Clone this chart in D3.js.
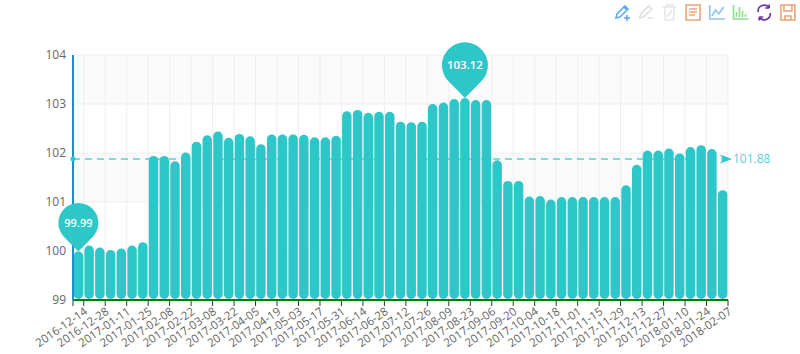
<!DOCTYPE html>
<html>
<head>
<meta charset="utf-8">
<script src="https://cdnjs.cloudflare.com/ajax/libs/d3/7.8.5/d3.min.js"></script>
<style>
	body { margin: 0; background: #fff; overflow: hidden; }
	text { font-family: "Open Sans", "Noto Sans", sans-serif; }
</style>
</head>
<body>
<div id="plot"></div>
<script>
// weekly categories
const categories = [
	"2016-12-14","2016-12-21","2016-12-28","2017-01-04","2017-01-11","2017-01-18","2017-01-25","2017-02-01",
	"2017-02-08","2017-02-15","2017-02-22","2017-03-01","2017-03-08","2017-03-15","2017-03-22","2017-03-29",
	"2017-04-05","2017-04-12","2017-04-19","2017-04-26","2017-05-03","2017-05-10","2017-05-17","2017-05-24",
	"2017-05-31","2017-06-07","2017-06-14","2017-06-21","2017-06-28","2017-07-05","2017-07-12","2017-07-19",
	"2017-07-26","2017-08-02","2017-08-09","2017-08-16","2017-08-23","2017-08-30","2017-09-06","2017-09-13",
	"2017-09-20","2017-09-27","2017-10-04","2017-10-11","2017-10-18","2017-10-25","2017-11-01","2017-11-08",
	"2017-11-15","2017-11-22","2017-11-29","2017-12-06","2017-12-13","2017-12-20","2017-12-27","2018-01-03",
	"2018-01-10","2018-01-17","2018-01-24","2018-01-31","2018-02-07"
];
const values = [
	99.99,100.11,100.07,100.02,100.05,100.11,100.18,101.94,
	101.94,101.83,102.01,102.23,102.36,102.44,102.31,102.39,
	102.34,102.18,102.38,102.38,102.38,102.37,102.32,102.32,
	102.35,102.85,102.88,102.82,102.84,102.84,102.64,102.63,
	102.64,103.00,103.03,103.10,103.12,103.08,103.08,101.85,
	101.43,101.43,101.11,101.12,101.05,101.10,101.10,101.10,
	101.10,101.10,101.10,101.34,101.76,102.05,102.05,102.09,
	101.99,102.12,102.16,102.08,101.24
];
const yTicks = [99, 100, 101, 102, 103, 104];
const meanValue = 101.88;

const color = "#2ec7c9";
const margin = {top: 55, right: 72, bottom: 54, left: 73};
const totalW = 800, totalH = 354;
const width = totalW - margin.left - margin.right;
const height = totalH - margin.top - margin.bottom;

let svg = d3.select("#plot")
	.append("svg")
		.attr("width", totalW)
		.attr("height", totalH)
		.style("display", "block");
let g = svg.append("g")
	.attr("transform", "translate(" + margin.left + "," + margin.top + ")");

let x = d3.scaleBand().domain(categories).range([0, width]).paddingInner(0.12).paddingOuter(0.06);
let y = d3.scaleLinear().domain([99, 104]).range([height, 0]);
let step = x.step();
let labelCats = categories.filter((d, i) => i % 2 == 0);

// alternating split areas
g.selectAll("rect.area")
	.data(yTicks.slice(0, -1).filter((d, i) => i % 2 == 0))
	.enter().append("rect")
		.attr("class", "area")
		.attr("x", 0)
		.attr("width", width)
		.attr("y", d => y(d + 1))
		.attr("height", d => y(d) - y(d + 1))
		.attr("fill", "#fafafa");

// grid
g.selectAll("line.hgrid")
	.data(yTicks)
	.enter().append("line")
		.attr("class", "hgrid")
		.attr("x1", 0).attr("x2", width)
		.attr("y1", d => y(d)).attr("y2", d => y(d))
		.attr("stroke", "#eee");
g.selectAll("line.vgrid")
	.data(labelCats)
	.enter().append("line")
		.attr("class", "vgrid")
		.attr("x1", d => x(d) + x.bandwidth() / 2 + step / 2)
		.attr("x2", d => x(d) + x.bandwidth() / 2 + step / 2)
		.attr("y1", 0).attr("y2", height)
		.attr("stroke", "#eee");

// bars
g.selectAll("rect.bar")
	.data(categories)
	.enter().append("rect")
		.attr("class", "bar")
		.attr("x", d => x(d))
		.attr("width", x.bandwidth())
		.attr("y", (d, i) => y(values[i]))
		.attr("height", (d, i) => y(99) - y(values[i]) - 1)
		.attr("rx", 4.7)
		.attr("fill", color);

// x axis, ticks sit on the right edge of every other band
let xAxis = g.append("g")
	.attr("transform", "translate(" + (step / 2) + "," + height + ")")
	.call(d3.axisBottom(x).tickValues(labelCats).tickSize(6).tickSizeOuter(0).offset(0));
xAxis.select(".domain").remove();
xAxis.selectAll("line").attr("stroke", "#333");
xAxis.selectAll("text")
	.attr("fill", "#666")
	.style("font-size", "11.5px")
	.attr("text-anchor", "end")
	.attr("x", -1)
	.attr("y", 9)
	.attr("dy", "0.71em")
	.attr("transform", "translate(-4.5,-1.5) rotate(-35)");
g.append("line")
	.attr("x1", 0).attr("x2", 0)
	.attr("y1", height).attr("y2", height + 6)
	.attr("stroke", "#333");
g.append("line")
	.attr("x1", 0).attr("x2", width)
	.attr("y1", height).attr("y2", height)
	.attr("stroke", "#008000")
	.attr("stroke-width", 2);

// y axis
let yAxis = g.append("g")
	.call(d3.axisLeft(y).tickValues(yTicks).tickFormat(d3.format("d")).tickSize(0).tickPadding(7).offset(0));
yAxis.select(".domain").attr("stroke", "#1790cf").attr("stroke-width", 2);
yAxis.selectAll("text").attr("fill", "#666").style("font-size", "12px");

// mean line
let mark = g.append("g").attr("transform", "translate(0," + y(meanValue) + ")");
mark.append("line")
	.attr("x1", 0).attr("x2", width - 4)
	.attr("stroke", color).attr("stroke-opacity", 0.8)
	.attr("stroke-width", 1.5)
	.attr("stroke-dasharray", "7,5");
mark.append("circle").attr("r", 2.5).attr("fill", color);
mark.append("path")
	.attr("transform", "translate(" + (width + 4) + ",0)")
	.attr("d", "M0,0L-12,-4.5L-9,0L-12,4.5Z")
	.attr("fill", color);
mark.append("text")
	.attr("x", width + 5)
	.attr("dy", "0.35em")
	.attr("fill", color)
	.attr("fill-opacity", 0.85)
	.style("font-size", "12px")
	.text(meanValue.toFixed(2));

// pin with the tip on the point, sides tangent to the circle
function pinPath(r) {
	let d = r * 1.43;
	let sx = r * Math.sqrt(1 - (r / d) * (r / d));
	let sy = -d + r * (r / d);
	return "M0,0L" + (-sx) + "," + sy + "A" + r + "," + r + " 0 1 1 " + sx + "," + sy + "Z";
}
function drawPin(value, r, fontSize) {
	let cat = categories[values.indexOf(value)];
	let p = g.append("g")
		.attr("transform", "translate(" + (x(cat) + x.bandwidth() / 2) + "," + y(value) + ")");
	p.append("path").attr("d", pinPath(r)).attr("fill", color);
	p.append("text")
		.attr("text-anchor", "middle")
		.attr("y", -r * 1.43)
		.attr("dy", "0.35em")
		.attr("fill", "#fff")
		.style("font-size", fontSize + "px")
		.style("font-weight", 600)
		.text(value.toFixed(2));
}
drawPin(d3.max(values), 23, 11.5);
drawPin(d3.min(values), 20, 11);

// toolbox icons
const iconColors = ["#5ea9f2", "#dfdfdf", "#e6e6e6", "#e8a57a", "#8fc3f5", "#8fdc8c", "#6a35a8", "#e8a57a"];
const iconPaths = [
	"M2,14L3,10L11,2L14,5L6,13Z M10,3L13,6 M13,11V17 M10,14H16",
	"M2,14L3,10L11,2L14,5L6,13Z M10,14H15",
	"M1,3H15 M5,3V1H11V3 M3,3L4,16H12L13,3 M6,13L11,6",
	"M1,1H15V16H1Z M4,5H12 M4,8H12 M4,11H10",
	"M1,1V15H16 M3,12L7,6L10,10L15,3",
	"M1,1V15H16 M4,13V8 M7,13V3 M10,13V7 M13,13V10",
	"M2,8A6,6 0 0 1 13,4 M13,4V0.5 M13,4H9 M14,9A6,6 0 0 1 3,13 M3,13V16.5 M3,13H7",
	"M1,1H15V16H1Z M4,1V7H12V1 M5,16V12H11V16"
];
let tools = svg.append("g").attr("transform", "translate(614,4)");
tools.selectAll("path")
	.data(iconPaths)
	.enter().append("path")
		.attr("transform", (d, i) => "translate(" + (i * 23.7) + ",0)")
		.attr("d", d => d)
		.attr("fill", "none")
		.attr("stroke", (d, i) => iconColors[i])
		.attr("stroke-width", 1.6);
</script>
</body>
</html>
